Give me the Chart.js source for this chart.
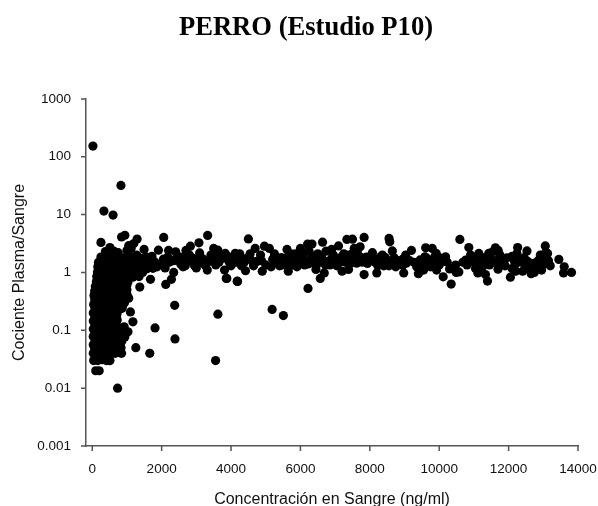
<!DOCTYPE html>
<html><head><meta charset="utf-8">
<style>html,body{margin:0;padding:0;background:#fff}#w{width:598px;height:506px}</style>
<script src="https://cdn.jsdelivr.net/npm/chart.js@4"></script></head>
<body><div id="w"><canvas id="c" width="598" height="506"></canvas></div>
<script>
const titleText = "PERRO (Estudio P10)";
const xTitle = "Concentración en Sangre (ng/ml)";
const yTitle = "Cociente Plasma/Sangre";
const xTicks = [0,2000,4000,6000,8000,10000,12000,14000];
const yTicks = [0.001,0.01,0.1,1,10,100,1000];
const outliers = [[20,153],[827,32],[336,11.5],[600,9.8],[730,0.01],[100,0.02],[200,0.02],[3555,0.03],[1658,0.04],[1256,0.05],[2385,0.071],[1810,0.11],[3621,0.19],[2376,0.27],[5184,0.23],[5509,0.18],[6218,0.53],[845,0.04],[510,0.03]];
const clusterLow = [[40,.03],[160,.03],[290,.031],[410,.03],[500,.03],[90,.034],[230,.035],[350,.034],[470,.033],[30,.04],[140,.041],[260,.039],[380,.04],[520,.042],[660,.04],[790,.041],[70,.048],[200,.047],[330,.05],[460,.048],[590,.049],[720,.047],[30,.056],[150,.057],[280,.055],[410,.058],[540,.056],[680,.055],[80,.066],[210,.067],[340,.065],[470,.068],[600,.066],[730,.064],[30,.078],[140,.079],[270,.077],[400,.08],[530,.078],[660,.076],[940,.077],[80,.09],[210,.092],[340,.088],[470,.09],[600,.093],[720,.09],[1030,.094],[30,.105],[150,.107],[280,.103],[410,.106],[540,.104],[650,.108],[80,.125],[210,.123],[340,.127],[470,.125],[600,.122],[690,.128],[30,.145],[150,.147],[280,.143],[400,.146],[520,.144],[640,.148],[1172,.14],[80,.17],[210,.168],[340,.172],[460,.17],[590,.167],[790,.045],[830,.05],[780,.06],[850,.065],[760,.075],[820,.085],[880,.1],[760,.11],[920,.115],[720,.15],[700,.17],[710,.19]];
const clusterHigh = [[30,.2],[140,.205],[270,.197],[400,.2],[530,.203],[660,.198],[1100,.208],[80,.24],[210,.237],[340,.243],[470,.24],[600,.236],[730,.245],[860,.24],[40,.28],[160,.285],[290,.275],[420,.282],[550,.278],[680,.286],[800,.28],[70,.34],[200,.335],[330,.345],[460,.34],[590,.332],[720,.346],[850,.34],[50,.4],[180,.41],[310,.395],[440,.405],[570,.398],[700,.412],[830,.4],[970,.41],[70,.48],[200,.47],[330,.49],[460,.48],[590,.475],[720,.49],[850,.48],[950,.47],[90,.58],[220,.59],[350,.57],[480,.585],[610,.575],[740,.6],[870,.58],[1000,.61],[120,.7],[250,.69],[380,.71],[510,.7],[640,.68],[770,.72],[900,.7],[1030,.69],[1370,.56],[130,.85],[260,.86],[390,.84],[520,.87],[650,.83],[780,.86],[910,.84],[1040,.87],[1170,.83],[1350,.85],[150,1.02],[280,1],[410,1.04],[540,1.01],[670,.98],[800,1.05],[930,1],[1060,1.03],[1190,.99],[1320,1.04],[1450,1],[160,1.25],[290,1.22],[420,1.28],[550,1.24],[680,1.2],[810,1.3],[940,1.22],[1070,1.27],[1200,1.21],[1330,1.28],[1460,1.2],[1600,1.25],[1750,1.18],[180,1.5],[310,1.55],[440,1.46],[570,1.52],[700,1.58],[830,1.45],[960,1.54],[1090,1.48],[1220,1.6],[1350,1.45],[1480,1.55],[1650,1.45],[1800,1.52],[1950,1.38],[250,1.85],[360,1.9],[490,1.8],[620,1.95],[750,1.85],[880,1.78],[1010,1.9],[1150,1.82],[1280,2],[1410,1.75],[1560,1.85],[1720,1.9],[250,3.3],[509,2.7],[747,2.2],[380,2.3],[620,2.35],[1000,2.4],[1120,2.6],[1494,2.5],[1908,2.43],[940,4.4],[845,4.1],[1293,3.77],[1198,3.17],[1050,2.9],[1678,.76],[1870,1.25],[1560,1.15],[900,.5],[1000,.5],[1000,.42],[1050,.36],[930,.3],[880,.27],[780,.23]];
const bandA = [[2060,4.04],[3325,4.36],[3075,3.25],[2828,2.85],[2405,2.27],[3095,2.18],[3621,2.43],[3833,2.13],[4121,2.13],[2615,1.25],[3000,1.2],[3316,1.1],[3813,1.1],[3879,.79],[4178,.707],[2348,1],[2282,.76],[2118,.62],[2500,1.6],[2620,1.85],[2750,1.55],[2900,1.75],[3050,1.45],[3200,1.7],[3370,1.55],[3500,1.85],[3650,1.5],[3750,1.75],[3950,1.5],[4050,1.65],[2100,1.2],[2220,1.5],[2350,1.6],[2050,1.7],[2180,1.85],[4300,1.7],[4450,1.75],[4600,1.6],[4750,1.55],[4300,1.3],[4417,1.07],[4500,3.8],[4962,2.85],[5106,2.6],[4695,2.6],[3862,.79],[4187,.7],[5155,1.25],[4880,1.6],[5300,1.5],[5613,2.5],[5450,1.8],[5550,1.4],[5650,1.9],[5750,1.5],[5850,2.1],[5950,1.45],[6050,2],[6150,1.6],[6207,3.09],[6333,3.09],[6638,3.34],[5400,1.3],[5550,1.75],[5700,1.3],[5850,1.35],[5980,1.75],[6120,1.35],[6250,2.3],[6300,1.7],[6400,1.9],[6450,1.3],[6735,2.33],[6600,1.9],[6572,.79],[6687,.98],[6448,1.13],[6550,1.5],[6800,1.55],[6900,1.75],[7000,1.45],[7100,1.65],[7200,1.9],[7300,1.5],[7098,2.88],[7339,3.72],[7500,3.76],[7836,4.04],[7721,2.77],[7400,2],[7550,2.6],[7385,1.13],[7450,1.45],[7600,2.1],[7836,.92]];
const bandAExtra = [[2450,1.95],[2550,1.4],[2680,1.3],[2800,2],[2950,1.3],[3100,1.9],[3250,1.35],[3420,2],[3560,1.35],[3700,2],[3900,1.9],[4000,1.3],[4150,1.5],[4250,2.1],[4380,1.5],[4550,2.1],[4650,1.3],[4850,2],[5000,1.35],[5200,1.7],[5250,2.1],[5350,1.75],[5480,1.35],[5620,1.6],[5720,2.1],[5800,1.65],[5900,1.25],[6000,1.55],[6100,2.2],[6220,1.4],[6350,1.55],[6500,2.1],[6650,1.65],[6720,1.35],[6850,1.35],[6950,2],[7050,1.3],[7150,1.5],[7250,2.1],[7350,1.7],[7500,2.1],[7550,1.6],[7650,2.5],[7620,1.45],[7700,1.9],[7780,1.5],[4900,1.05],[5650,1.05],[6000,2.6],[6900,2.5],[7200,1.05],[3500,2.6],[2700,2.4],[2200,2.4]];
const bandB = [[8201,.98],[8075,2.2],[8362,2],[8554,3.87],[8575,3.39],[8649,2.36],[8747,1.25],[7931,1.43],[8000,1.75],[8150,1.5],[8280,1.7],[8400,1.3],[8480,1.6],[8600,1.5],[8700,1.8],[8850,1.45],[8950,1.7],[8977,.98],[9034,2],[9150,1.6],[9272,1.5],[9417,1.14],[9500,1.3],[9589,1.86],[9609,2.67],[9700,1.45],[9799,2.6],[9850,1.6],[9914,2.13],[9925,1.1],[10000,1.35],[10115,.84],[10183,1.86],[10230,1.5],[10345,.63],[10471,1.34],[10489,1],[10566,1.02],[10595,3.72],[10759,1.63],[10853,2.7],[10680,1.5],[10902,2],[10950,1.55],[11046,1.17],[11112,.98],[11141,2.13],[11200,1.65],[11333,.92],[11391,.71],[11300,1.5],[11428,2.13],[11500,1.7],[11550,2.3],[11620,2.67],[11600,1.5],[11695,1.14],[11800,1.5],[11954,1.79],[12052,.83],[12098,1.17],[12170,1.55],[12241,2.13],[12261,2.7],[12368,1.5],[12405,1.05],[12529,2.36],[12480,1.2],[12650,1.3],[12721,1.43],[12741,1],[12816,1.17],[12850,1.6],[12914,2],[12980,1.75],[13057,2.88],[13123,2.13],[13057,1.63],[13150,1.6],[13448,1.68],[13603,1.25],[13583,.98],[13813,1]];
const bandBExtra = [[7900,1.85],[8100,1.7],[8230,1.3],[8300,1.85],[8450,1.8],[8550,1.3],[8800,1.6],[8950,1.35],[9050,1.45],[9350,1.25],[9450,1.65],[9550,1.1],[9650,1.75],[9750,1.25],[9880,1.9],[10000,1.8],[10100,1.55],[10300,1.15],[10800,1.35],[11000,1.5],[11050,1.85],[11250,1.25],[11150,1.45],[11350,1.85],[11450,1.35],[11700,1.7],[11750,2],[11900,1.3],[12100,1.9],[12200,1.4],[12300,1.7],[12450,1.8],[12550,1.55],[12600,1.15],[12950,1.1],[13000,1.4],[13050,2.1],[9200,2.4],[9400,.95],[11700,2.4],[12200,1.05],[12650,.95],[13200,1.3]];
const points = [...outliers,...clusterLow,...clusterHigh,...bandA,...bandAExtra,...bandB,...bandBExtra].map(([x,y])=>({x,y}));
const axisGray = "#555", ink = "#111";
new Chart(document.getElementById("c"),{
  type:"scatter",
  data:{datasets:[{data:points,backgroundColor:"#000",borderWidth:0,pointRadius:4.6,pointHoverRadius:4.6}]},
  options:{
    responsive:false,animation:false,events:[],
    layout:{padding:{left:34,right:20,top:0,bottom:0}},
    plugins:{legend:{display:false},tooltip:{enabled:false},
      title:{display:true,text:titleText,color:"#000",font:{family:"'Liberation Serif',serif",size:26.6,weight:"bold",lineHeight:1.2},padding:{top:12,bottom:55}}},
    scales:{
      x:{type:"linear",min:-180,max:14000,
        afterBuildTicks:s=>{s.ticks=xTicks.map(v=>({value:v}));},
        afterFit:s=>{s.height=60;s.paddingLeft=0;s.paddingRight=0;},
        grid:{display:false},
        border:{color:axisGray,width:1.5},
        ticks:{color:ink,font:{family:"'Liberation Sans'",size:13.5},maxRotation:0,autoSkip:false,padding:7,callback:v=>String(v)},
        title:{display:true,text:xTitle,color:ink,font:{family:"'Liberation Sans'",size:16},padding:{top:8,bottom:-3}}},
      y:{type:"logarithmic",min:0.001,max:1000,
        afterBuildTicks:s=>{s.ticks=yTicks.map(v=>({value:v}));},
        afterFit:s=>{s.width=52;s.paddingTop=0;s.paddingBottom=0;},
        grid:{display:false},
        border:{color:axisGray,width:1.5},
        ticks:{color:ink,font:{family:"'Liberation Sans'",size:13.5},autoSkip:false,padding:7,callback:v=>String(v)},
        title:{display:true,text:yTitle,color:ink,font:{family:"'Liberation Sans'",size:16},padding:{top:-24,bottom:0}}}
    }
  },
  plugins:[{id:"outTicks",afterDraw(c){
    const g=c.ctx,xs=c.scales.x,ys=c.scales.y,a=c.chartArea;
    g.save();g.strokeStyle=axisGray;g.lineWidth=1.5;g.beginPath();
    xTicks.forEach(v=>{const p=xs.getPixelForValue(v);g.moveTo(p,a.bottom);g.lineTo(p,a.bottom+5);});
    yTicks.forEach(v=>{const p=ys.getPixelForValue(v);g.moveTo(a.left,p);g.lineTo(a.left-5,p);});
    g.stroke();g.restore();}}]
});
</script></body></html>
